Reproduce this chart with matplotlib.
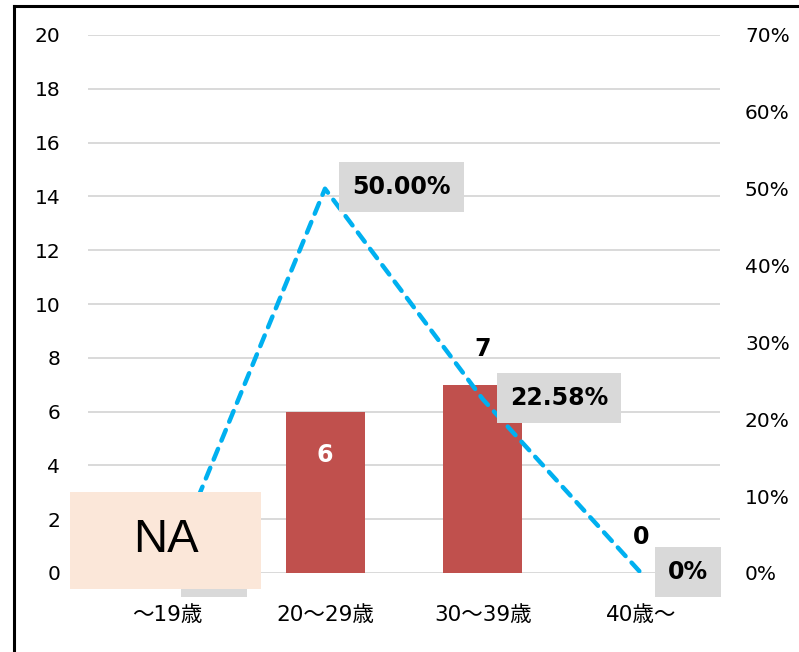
import numpy as np
import matplotlib
matplotlib.use("Agg")
import matplotlib.pyplot as plt
from matplotlib.lines import Line2D
from matplotlib.patches import Rectangle

# Data
categories = ["～19歳", "20～29歳", "30～39歳", "40歳～"]
counts = [np.nan, 6, 7, 0]            # bar values (left axis)
rates = [0.0, 0.50, 0.2258, 0.0]      # line values (right axis)
rate_labels = ["0%", "50.00%", "22.58%", "0%"]
left_ticks = [0, 2, 4, 6, 8, 10, 12, 14, 16, 18, 20]
right_ticks = [0.0, 0.1, 0.2, 0.3, 0.4, 0.5, 0.6, 0.7]

BAR_COLOR = "#C0504D"
LINE_COLOR = "#00B0F0"
GRID_COLOR = "#D9D9D9"
LABEL_BOX = "#D9D9D9"
NA_FILL = "#FBE7D9"

W, H = 799, 652
fig = plt.figure(figsize=(W / 100, H / 100), dpi=100)

def px(x0, y0, x1, y1):
    return [x0 / W, 1 - y1 / H, (x1 - x0) / W, (y1 - y0) / H]

ax = fig.add_axes(px(88, 35, 720, 573))
ax2 = ax.twinx()

x = np.arange(len(categories))

# Bars on the left axis
ax.bar(x, counts, width=0.5, color=BAR_COLOR, zorder=2)
ax.set_ylim(0, 20)
ax.set_xlim(-0.5, len(categories) - 0.5)
ax.set_yticks(left_ticks)
ax.yaxis.grid(True, color=GRID_COLOR, linewidth=1.4, zorder=0)
ax.set_axisbelow(True)
ax.set_xticks(x)
ax.set_xticklabels(categories, family=["DejaVu Sans", "Noto Sans CJK JP"],
                   fontsize=15.5)
ax.tick_params(axis="x", length=0, pad=23)
ax.tick_params(axis="y", length=0, pad=20, labelsize=14.5)

# Line on the right axis
ax2.plot(x, rates, color=LINE_COLOR, linewidth=3.2, linestyle=(0, (2.6, 2.0)),
         dash_capstyle="round", zorder=3)
ax2.set_ylim(0, 0.7)
ax2.set_yticks(right_ticks)
ax2.set_yticklabels([f"{int(round(t * 100))}%" for t in right_ticks])
ax2.tick_params(axis="y", length=0, pad=18, labelsize=14.5)

for a in (ax, ax2):
    for s in a.spines.values():
        s.set_visible(False)

# Bar value labels
for i, v in enumerate(counts):
    if np.isnan(v):
        continue
    if i == 1:
        ax.annotate(f"{v:g}", (x[i], v), xytext=(0, -31), textcoords="offset points",
                    ha="center", va="center", fontsize=17, fontweight="bold",
                    color="white", zorder=5)
    else:
        ax.annotate(f"{v:g}", (x[i], v), xytext=(0, 26), textcoords="offset points",
                    ha="center", va="center", fontsize=17, fontweight="bold",
                    color="black", zorder=5)

# Rate labels in grey boxes
for i, (r, lab) in enumerate(zip(rates, rate_labels)):
    ax2.annotate(lab, (x[i], r), xytext=(19.5, 1), textcoords="offset points",
                 ha="left", va="center", fontsize=17, fontweight="bold",
                 color="black", zorder=6,
                 bbox=dict(boxstyle="square,pad=0.55", fc=LABEL_BOX, ec="none"))

# NA placeholder over the first category
na_ax = fig.add_axes(px(70, 492, 261, 589))
na_ax.set_xlim(0, 1)
na_ax.set_ylim(0, 1)
na_ax.axis("off")
na_ax.add_patch(Rectangle((0, 0), 1, 1, facecolor=NA_FILL, edgecolor="none"))
na_ax.text(0.5, 0.5, "NA", ha="center", va="center", fontsize=34,
           family="Liberation Sans", color="black")
na_ax.set_zorder(10)

# Outer frame edges
fig.add_artist(Line2D([14 / W, 14 / W], [0, 1 - 6 / H], color="black", linewidth=2.2))
fig.add_artist(Line2D([14 / W, 1], [1 - 6 / H, 1 - 6 / H], color="black", linewidth=2.2))

fig.savefig("out.png", dpi=100)
